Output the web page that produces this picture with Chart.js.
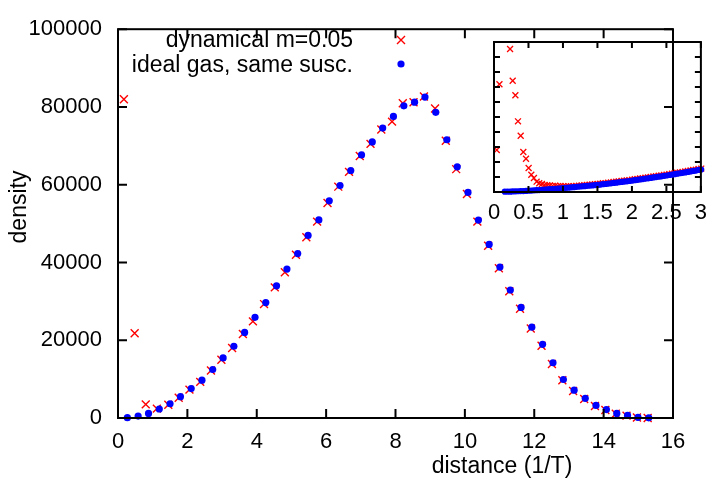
<!DOCTYPE html>
<html>
<head>
<meta charset="utf-8">
<script src="https://cdn.jsdelivr.net/npm/chart.js@4/dist/chart.umd.min.js"></script>
<style>
  body { margin: 0; background: #fff; }
  #wrap { position: relative; width: 715px; height: 480px; }
  #mainChart { position: absolute; left: 0; top: 0; }
  #insetChart { position: absolute; left: 440px; top: 30px; }
</style>
</head>
<body>
<div id="wrap">
  <canvas id="mainChart" width="715" height="480"></canvas>
  <canvas id="insetChart" width="275" height="210"></canvas>
</div>
<script>
// main plot: ideal gas (blue circles)
const idealX = [0.27, 0.58, 0.88, 1.19, 1.50, 1.80, 2.11, 2.42, 2.73, 3.03, 3.34, 3.65, 3.95, 4.26, 4.57, 4.87,
  5.18, 5.48, 5.79, 6.09, 6.40, 6.71, 7.02, 7.33, 7.63, 7.94, 8.24, 8.55, 8.85, 9.16, 9.48, 9.78, 10.09, 10.39,
  10.70, 11.01, 11.31, 11.62, 11.93, 12.24, 12.54, 12.84, 13.15, 13.47, 13.78, 14.08, 14.38, 14.69, 14.99, 15.30];
const idealY = [75, 500, 1170, 2320, 3670, 5490, 7560, 9730, 12470, 15460, 18450, 22000, 25900, 29700, 34000, 38300,
  42300, 46950, 50950, 55860, 59770, 63660, 67660, 71000, 74560, 77560, 80300, 81220, 82540, 78630, 71570, 64590, 58030, 50900,
  44650, 38830, 32920, 28430, 23370, 18950, 14210, 9900, 7160, 5060, 3240, 2170, 1170, 670, 170, 50];

// main plot: dynamical m=0.05 (red crosses)
const dynX = [0.17, 0.48, 0.80, 1.12, 1.45, 1.75, 2.06, 2.37, 2.68, 2.98, 3.29, 3.60, 3.89, 4.21, 4.52, 4.81,
  5.13, 5.43, 5.74, 6.04, 6.35, 6.66, 6.97, 7.28, 7.59, 7.90, 8.21, 8.52, 8.82, 9.14, 9.45, 9.75, 10.06, 10.36,
  10.67, 10.98, 11.28, 11.59, 11.90, 12.21, 12.51, 12.81, 13.12, 13.44, 13.75, 14.05, 14.35, 14.66, 14.96, 15.27];
const dynY = [82000, 21800, 3500, 2420, 3400, 5200, 7300, 9300, 12200, 15000, 18000, 21600, 24860, 29300, 33600, 37480,
  42000, 46500, 50500, 55300, 59500, 63300, 67400, 70500, 74200, 76230, 80970, 81200, 82700, 79600, 71300, 64000, 57600, 50500,
  44300, 38500, 32600, 28100, 23000, 18600, 13900, 9700, 6950, 4900, 3100, 2050, 1100, 600, 120, 0];

// inset: finer binning, 0..3
const insetX = [0.040, 0.079, 0.117, 0.156, 0.194, 0.233, 0.271, 0.310, 0.348, 0.387, 0.425, 0.464, 0.502, 0.541,
  0.579, 0.618, 0.656, 0.695, 0.733, 0.772, 0.810, 0.849, 0.887, 0.926, 0.964, 1.003, 1.041, 1.080, 1.118, 1.157,
  1.195, 1.234, 1.272, 1.311, 1.349, 1.388, 1.426, 1.465, 1.503, 1.542, 1.580, 1.619, 1.657, 1.696, 1.734, 1.773,
  1.811, 1.850, 1.888, 1.927, 1.965, 2.004, 2.042, 2.081, 2.119, 2.158, 2.196, 2.235, 2.273, 2.312, 2.350, 2.389,
  2.427, 2.466, 2.504, 2.543, 2.581, 2.620, 2.658, 2.697, 2.735, 2.774, 2.812, 2.851, 2.889, 2.928, 2.966, 3.005];
const insetDyn = [28000, 71800, null, null, null, 95300, 74200, 64500, 47100, 37500, 26700, 22200, 16000, 11500,
  9300, 6900, 5800, 5300, 4700, 4500, 4300, 4100, 4200, 3900, 4000, 3800, 3700, 3800, 3900, 3900,
  4100, 4200, 4400, 4500, 4700, 4900, 5000, 5250, 5300, 5550, 5800, 5950, 6200, 6400, 6650, 6800,
  7100, 7300, 7550, 7750, 7950, 8200, 8500, 8700, 9000, 9200, 9550, 9750, 10000, 10300, 10550, 10850,
  11050, 11400, 11600, 11950, 12200, 12500, 12800, 13100, 13400, 13650, 14000, 14300, 14650, 14900, 15300, 15600];
const insetIdeal = [null, null, null, 200, 300, 250, 400, 450, 500, 600, 650, 750, 900, 950,
  1100, 1200, 1300, 1450, 1600, 1700, 1900, 2000, 2150, 2300, 2450, 2600, 2800, 2900, 3150, 3250,
  3450, 3600, 3800, 3900, 4150, 4300, 4400, 4650, 4700, 4950, 5200, 5350, 5600, 5800, 6050, 6200,
  6500, 6700, 6950, 7150, 7350, 7600, 7900, 8100, 8400, 8600, 8950, 9150, 9400, 9700, 9950, 10250,
  10450, 10800, 11000, 11350, 11600, 11900, 12200, 12500, 12800, 13050, 13400, 13700, 14050, 14300, 14700, 15000];

const mainXTicks = [0, 2, 4, 6, 8, 10, 12, 14, 16];
const mainYTicks = [0, 20000, 40000, 60000, 80000, 100000];
const insetXTicks = [0, 0.5, 1, 1.5, 2, 2.5, 3];
const insetYTicks = [0, 10000, 20000, 30000, 40000, 50000, 60000, 70000, 80000, 90000, 100000];

const legendLabels = ['dynamical m=0.05', 'ideal gas, same susc.'];

const FONT = 'Liberation Sans, Arial, Helvetica, sans-serif';
Chart.defaults.font.family = FONT;
Chart.defaults.font.size = 22;
Chart.defaults.color = '#000';

function pairs(xs, ys) {
  return xs.map((x, i) => ({ x: x, y: ys[i] })).filter(p => p.y !== null);
}

// gnuplot style frame, ticks pointing inward on all four sides
function framePlugin(xt, yt, len) {
  return {
    id: 'frame',
    afterDraw(chart) {
      const { ctx, chartArea: a, scales } = chart;
      ctx.save();
      ctx.strokeStyle = '#000';
      ctx.lineWidth = 2;
      ctx.beginPath();
      xt.forEach(v => {
        const px = scales.x.getPixelForValue(v);
        ctx.moveTo(px, a.bottom); ctx.lineTo(px, a.bottom - len);
        ctx.moveTo(px, a.top); ctx.lineTo(px, a.top + len);
      });
      yt.forEach(v => {
        const py = scales.y.getPixelForValue(v);
        ctx.moveTo(a.left, py); ctx.lineTo(a.left + len, py);
        ctx.moveTo(a.right, py); ctx.lineTo(a.right - len, py);
      });
      ctx.stroke();
      ctx.strokeRect(a.left, a.top, a.right - a.left, a.bottom - a.top);
      ctx.restore();
    }
  };
}

const textPlugin = {
  id: 'texts',
  afterDraw(chart) {
    const ctx = chart.ctx;
    ctx.save();
    ctx.fillStyle = '#000';
    ctx.font = '23px ' + FONT;
    // legend (gnuplot key, text right aligned, sample to the right)
    ctx.textAlign = 'right';
    ctx.textBaseline = 'alphabetic';
    ctx.fillText(legendLabels[0], 353, 47);
    ctx.fillText(legendLabels[1], 353, 72);
    ctx.strokeStyle = '#ff0000';
    ctx.lineWidth = 1.4;
    ctx.beginPath();
    ctx.moveTo(397, 36); ctx.lineTo(405, 44);
    ctx.moveTo(405, 36); ctx.lineTo(397, 44);
    ctx.stroke();
    ctx.fillStyle = '#0000ff';
    ctx.beginPath();
    ctx.arc(401, 64, 3.6, 0, Math.PI * 2);
    ctx.fill();
    // axis titles
    ctx.fillStyle = '#000';
    ctx.textAlign = 'center';
    ctx.fillText('distance (1/T)', 502, 473);
    ctx.translate(26, 207);
    ctx.rotate(-Math.PI / 2);
    ctx.fillText('density', 0, 0);
    ctx.restore();
  }
};

new Chart(document.getElementById('mainChart'), {
  type: 'scatter',
  data: {
    datasets: [
      {
        label: legendLabels[0],
        data: pairs(dynX, dynY),
        pointStyle: 'crossRot',
        pointRadius: 5.6,
        borderColor: '#ff0000',
        borderWidth: 1.4,
        order: 1,
        clip: 8
      },
      {
        label: legendLabels[1],
        data: pairs(idealX, idealY),
        pointStyle: 'circle',
        pointRadius: 3.6,
        backgroundColor: '#0000ff',
        borderWidth: 0,
        order: 0,
        clip: 8
      }
    ]
  },
  options: {
    responsive: false,
    devicePixelRatio: 1,
    animation: false,
    layout: { padding: { left: 0, top: 17, right: 42, bottom: 0 } },
    plugins: { legend: { display: false }, tooltip: { enabled: false } },
    scales: {
      x: {
        type: 'linear', min: 0, max: 16,
        afterFit: s => { s.height = 62; },
        afterBuildTicks: s => { s.ticks = mainXTicks.map(v => ({ value: v })); },
        grid: { display: false, drawTicks: false },
        border: { display: false },
        ticks: { padding: 11, maxRotation: 0, callback: v => String(v) }
      },
      y: {
        type: 'linear', min: 0, max: 100000,
        afterFit: s => { s.width = 118; },
        afterBuildTicks: s => { s.ticks = mainYTicks.map(v => ({ value: v })); },
        grid: { display: false, drawTicks: false },
        border: { display: false },
        ticks: { padding: 16, callback: v => String(v) }
      }
    }
  },
  plugins: [framePlugin(mainXTicks, mainYTicks, 9), textPlugin]
});

new Chart(document.getElementById('insetChart'), {
  type: 'scatter',
  data: {
    datasets: [
      {
        data: pairs(insetX, insetDyn),
        pointStyle: 'crossRot',
        pointRadius: 4.2,
        borderColor: '#ff0000',
        borderWidth: 1.3,
        order: 1,
        clip: 4
      },
      {
        data: pairs(insetX, insetIdeal),
        pointStyle: 'circle',
        pointRadius: 3.1,
        backgroundColor: '#0000ff',
        borderWidth: 0,
        order: 0,
        clip: 4
      }
    ]
  },
  options: {
    responsive: false,
    devicePixelRatio: 1,
    animation: false,
    layout: { padding: { left: 0, top: 12, right: 7, bottom: 0 } },
    plugins: { legend: { display: false }, tooltip: { enabled: false } },
    scales: {
      x: {
        type: 'linear', min: 0, max: 3,
        afterFit: s => { s.height = 48; },
        afterBuildTicks: s => { s.ticks = insetXTicks.map(v => ({ value: v })); },
        grid: { display: false, drawTicks: false },
        border: { display: false },
        ticks: { padding: 8, maxRotation: 0, callback: v => String(v) }
      },
      y: {
        type: 'linear', min: 0, max: 100000,
        afterFit: s => { s.width = 54; },
        afterBuildTicks: s => { s.ticks = insetYTicks.map(v => ({ value: v })); },
        grid: { display: false, drawTicks: false },
        border: { display: false },
        ticks: { display: false }
      }
    }
  },
  plugins: [framePlugin(insetXTicks, insetYTicks, 6)]
});
</script>
</body>
</html>
